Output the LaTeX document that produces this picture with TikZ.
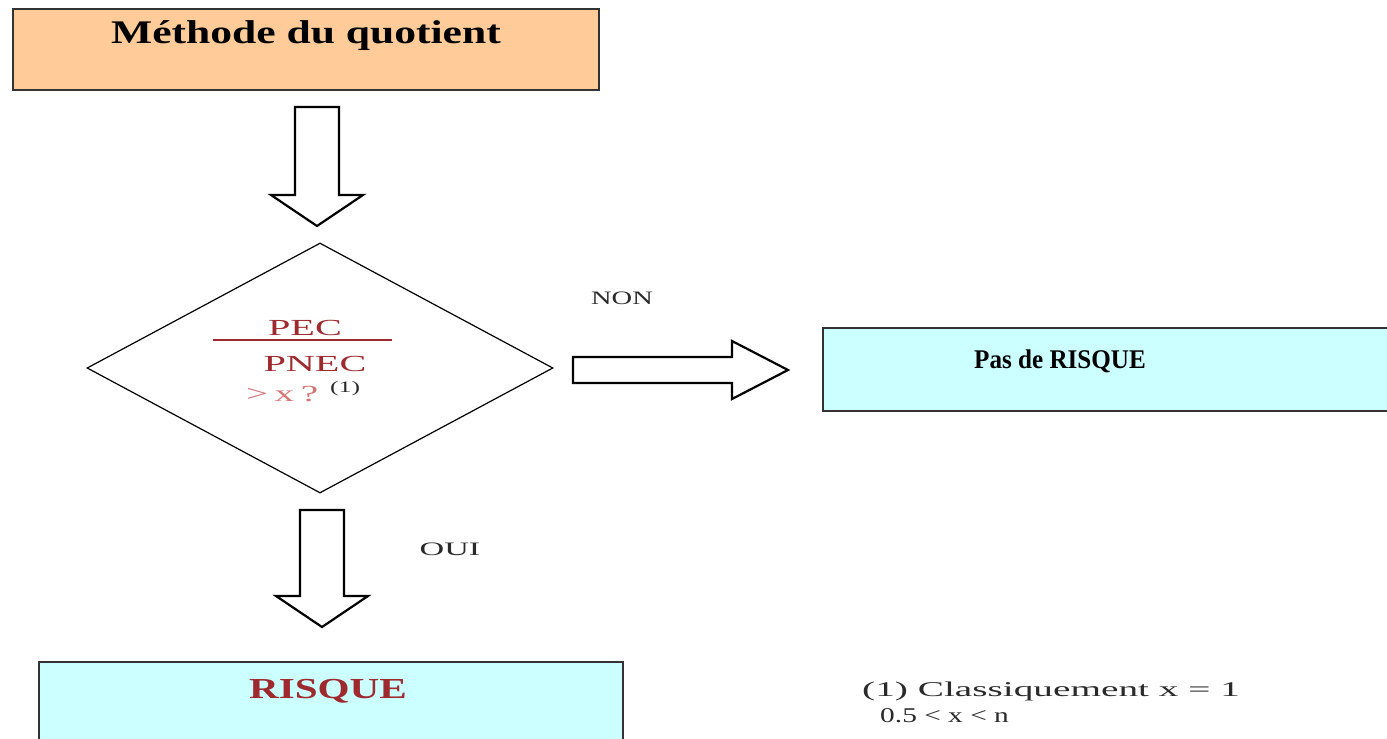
\documentclass[tikz,border=0pt]{standalone}
\usepackage{fontspec}
\setmainfont{Liberation Serif}
\usetikzlibrary{calc,shapes.geometric}

\definecolor{peach}{HTML}{FFCC99}
\definecolor{paleblue}{HTML}{CCFFFF}
\definecolor{darkred}{HTML}{9E2A2F}
\definecolor{pinkred}{HTML}{D27575}
\definecolor{edgegray}{HTML}{333333}
\definecolor{textgray}{HTML}{2A2A2A}

% vertical block arrow from #1 down to the tip #2
\newcommand\downblock[2]{%
  \draw[blockarrow] let \p1=(#1), \p2=(#2) in
    (\x1-22pt,\y1) -- (\x1+22pt,\y1) -- (\x1+22pt,\y2+31pt) -- (\x1+46pt,\y2+31pt)
    -- (\x2,\y2) -- (\x1-46pt,\y2+31pt) -- (\x1-22pt,\y2+31pt) -- cycle;}
% horizontal block arrow from #1 right to the tip #2
\newcommand\rightblock[2]{%
  \draw[blockarrow] let \p1=(#1), \p2=(#2) in
    (\x1,\y1+13pt) -- (\x2-56pt,\y1+13pt) -- (\x2-56pt,\y1+29pt) -- (\x2,\y2)
    -- (\x2-56pt,\y1-29pt) -- (\x2-56pt,\y1-13pt) -- (\x1,\y1-13pt) -- cycle;}

\begin{document}
\begin{tikzpicture}[x=1pt,y=-1pt,
  box/.style={draw=edgegray,line width=2pt,inner sep=0pt,anchor=north west},
  blockarrow/.style={draw=black,fill=white,line width=2.2pt,line join=miter},
  title/.style={anchor=base,inner sep=0pt,font=\fontsize{33}{38}\selectfont\bfseries},
  label/.style={anchor=base,inner sep=0pt,text=textgray,font=\fontsize{19}{22}\selectfont}]
\useasboundingbox (0,0) rectangle (1387,739);
\path[clip] (0,0) rectangle (1387,739);
\fill[white] (0,0) rectangle (1387,739);

% boxes
\node[box,fill=peach,minimum width=586pt,minimum height=81pt] (start) at (12,8) {};
\node[box,fill=paleblue,minimum width=600pt,minimum height=83pt] (norisk) at (822,327) {};
\node[box,fill=paleblue,minimum width=584pt,minimum height=120pt] (risk) at (38,661) {};

% decision
\node[draw=black,line width=1.2pt,diamond,inner sep=0pt,
      minimum width=466pt,minimum height=250pt] (dec) at (320,368) {};

% texts
\node[title] (starttxt) at (306,43) {\scalebox{1.32}[1]{Méthode du quotient}};
\node[title,font=\fontsize{27}{32}\selectfont\bfseries] (noristxt) at (1060,368)
  {\scalebox{0.93}[1]{Pas de RISQUE}};
\node[title,font=\fontsize{29}{34}\selectfont\bfseries,text=darkred] (risktxt) at (328,698)
  {\scalebox{1.42}[1]{RISQUE}};

\node[anchor=base,inner sep=0pt,text=darkred,font=\fontsize{23}{26}\selectfont] (pec) at (305,335)
  {\scalebox{1.75}[1]{PEC}};
\draw[darkred,line width=1.5pt] (213,340) -- (392,340);
\node[anchor=base,inner sep=0pt,text=darkred,font=\fontsize{23}{26}\selectfont] (pnec) at (315,371)
  {\scalebox{1.75}[1]{PNEC}};
\node[anchor=base west,inner sep=0pt,font=\fontsize{23}{26}\selectfont] (cond) at (246,401)
  {\textcolor{pinkred}{\scalebox{1.7}[1]{>\,x\,?}}\hspace{12pt}\raisebox{9pt}{\fontsize{16}{18}\selectfont\textcolor{textgray}{\scalebox{1.6}[1]{(1)}}}};

\node[label] (non) at (622,304) {\scalebox{1.5}[1]{NON}};
\node[label] (oui) at (450,555) {\scalebox{1.8}[1]{OUI}};

\node[anchor=base west,inner sep=0pt,text=textgray,font=\fontsize{21}{24}\selectfont] (note1) at (862,696)
  {\scalebox{1.87}[1]{(1) Classiquement x = 1}};
\node[anchor=base west,inner sep=0pt,text=textgray,font=\fontsize{21}{24}\selectfont] (note2) at (880,722)
  {\scalebox{1.4}[1]{0.5 < x < n}};

% block arrows
\coordinate (a1s) at (317,107);
\coordinate (a1e) at (317,226);
\coordinate (a2s) at (322,510);
\coordinate (a2e) at (322,627);
\coordinate (a3s) at (573,370);
\coordinate (a3e) at (788,370);
\downblock{a1s}{a1e}
\downblock{a2s}{a2e}
\rightblock{a3s}{a3e}
\end{tikzpicture}
\end{document}
